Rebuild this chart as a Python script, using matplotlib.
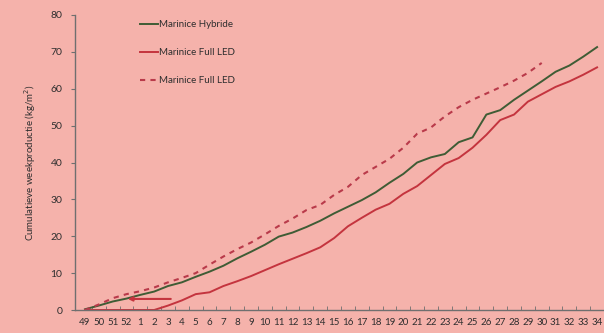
import matplotlib
matplotlib.use('Agg')
import matplotlib.pyplot as plt
import numpy as np

plt.rcParams['font.family'] = ['Lato', 'DejaVu Sans']

# week numbers, winter 49 through week 34
weeks = ['49', '50', '51', '52'] + [str(w) for w in range(1, 35)]

hybride = [0.2, 1.2, 2.3, 3.1, 4.1, 5.0, 6.5, 7.5, 9.0, 10.4,
           12.0, 14.0, 15.8, 17.7, 19.9, 21.0, 22.5, 24.2, 26.2, 28.0,
           29.8, 31.9, 34.5, 36.9, 40.0, 41.4, 42.3, 45.5, 46.8, 53.0,
           54.2, 57.0, 59.5, 62.0, 64.6, 66.3, 68.7, 71.3]

full_led = [0, 0, 0, 0, 0, 0, 1.2, 2.6, 4.3, 4.8,
            6.5, 7.8, 9.2, 10.8, 12.4, 13.9, 15.4, 17.0, 19.5, 22.7,
            25.0, 27.2, 28.8, 31.5, 33.6, 36.6, 39.6, 41.2, 44.0, 47.5,
            51.5, 53.0, 56.5, 58.5, 60.5, 62.0, 63.8, 65.8]

full_led_2 = [0, 1.5, 3.2, 4.3, 5.1, 6.1, 7.5, 8.7, 10.0, 12.3,
              14.5, 16.5, 18.3, 20.5, 22.8, 24.8, 27.1, 28.5, 31.2, 33.4,
              36.6, 38.8, 41.0, 44.0, 47.8, 49.5, 52.5, 55.0, 57.0, 58.7,
              60.4, 62.2, 64.3, 67.0]

# shift arrow: from week 3 back to week 52, at 3 kg/m2
arrow_from = (6.2, 3.0)
arrow_to = (3.1, 3.0)

bg = '#f5b2ab'
green = '#3f5c35'
red = '#c4343e'
red_dash = '#b93a4a'
txt = '#2e2e2e'

fig = plt.figure(figsize=(6.04, 3.33), dpi=100)
fig.patch.set_facecolor(bg)
ax = fig.add_axes([75/604, 23/333, 529/604, 295/333])
ax.set_facecolor(bg)

x = np.arange(len(weeks))
ax.plot(x, hybride, color=green, lw=1.4, label='Marinice Hybride')
ax.plot(x, full_led, color=red, lw=1.4, label='Marinice Full LED')
ax.plot(x[:len(full_led_2)], full_led_2, color=red_dash, lw=1.5,
        dashes=(2.5, 2.5), label='Marinice Full LED')

ax.annotate('', xy=arrow_to, xytext=arrow_from,
            arrowprops=dict(arrowstyle='-|>', color=red, lw=1.5,
                            mutation_scale=6, shrinkA=0, shrinkB=0))

ax.set_xlim(-0.72, 37.36)
ax.set_ylim(0, 80)
ax.set_xticks(x)
ax.set_xticklabels(weeks)
ax.set_xticks(x + 0.5, minor=True)
ax.set_yticks(np.arange(0, 81, 10))

for s in ['top', 'right']:
    ax.spines[s].set_visible(False)
for s in ['left', 'bottom']:
    ax.spines[s].set_color('#6f6f6f')
    ax.spines[s].set_linewidth(1.0)

ax.tick_params(axis='x', which='major', length=0, pad=6, labelsize=7, labelcolor=txt)
ax.tick_params(axis='x', which='minor', length=3, direction='in', color='#6f6f6f')
ax.tick_params(axis='y', length=3, direction='out', color='#6f6f6f', pad=6,
               labelsize=7.5, labelcolor=txt)

ax.set_ylabel('Cumulatieve weekproductie (kg/m$^2$)', fontsize=7, color=txt, labelpad=9)

leg = ax.legend(loc='upper left', bbox_to_anchor=(140/604, 1 - 20/333),
                bbox_transform=fig.transFigure, frameon=False, fontsize=7,
                handlelength=1.9, handletextpad=0.1, labelspacing=1.95,
                borderpad=0, borderaxespad=0)
for t in leg.get_texts():
    t.set_color(txt)

fig.savefig('out.png', dpi=100, facecolor=bg)
